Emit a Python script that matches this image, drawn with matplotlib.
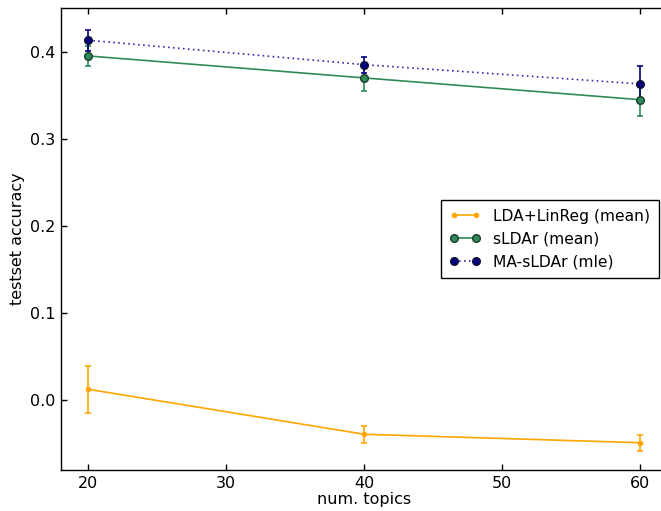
import matplotlib
matplotlib.use("Agg")
import matplotlib.pyplot as plt

topics = [20, 40, 60]

lda_mean = [0.0126, -0.0390, -0.0487]
lda_err = [0.027, 0.010, 0.009]

slda_mean = [0.395, 0.3698, 0.3448]
slda_err = [0.011, 0.015, 0.019]

ma_mle = [0.413, 0.385, 0.3629]
ma_err = [0.012, 0.009, 0.020]

labels = ["LDA+LinReg (mean)", "sLDAr (mean)", "MA-sLDAr (mle)"]
xticks = [20, 30, 40, 50, 60]
yticks = [0.0, 0.1, 0.2, 0.3, 0.4]

plt.rcParams['font.family'] = ['DejaVu Sans']
fig = plt.figure(figsize=(6.61, 5.11), dpi=100)
fig.patch.set_facecolor('white')
ax = fig.add_axes([60.7/661, 1-470/511, 607/661, 462/511])

c1 = ax.errorbar(topics, lda_mean, yerr=lda_err, color='orange', marker='o', markersize=3,
                 markeredgecolor='orange', lw=1.2, capsize=2.5, capthick=1.2, elinewidth=1.2)
c2 = ax.errorbar(topics, slda_mean, yerr=slda_err, color='seagreen', marker='o', markersize=5.5,
                 markerfacecolor='seagreen', markeredgecolor='#1a3a2a', lw=1.2, capsize=2.5,
                 capthick=1.2, elinewidth=1.2)
c3 = ax.errorbar(topics, ma_mle, yerr=ma_err, color='navy', marker='o', markersize=5.5,
                 markerfacecolor='navy', markeredgecolor='#101030', lw=1.2, capsize=2.5,
                 capthick=1.2, elinewidth=1.2)
c3[0].set_linestyle((0, (1, 2)))
c3[0].set_color('#3030a8')
c3[0].set_markerfacecolor('navy')
c3[0].set_markeredgecolor('#101030')

ax.set_xlim(18, 62)
ax.set_ylim(-0.08, 0.45)
ax.set_xticks(xticks)
ax.set_yticks(yticks)
ax.set_xticklabels([str(t) for t in xticks])
ax.set_yticklabels([f"{t:.1f}" for t in yticks])
ax.tick_params(direction='in', top=True, right=True, length=4, width=1, labelsize=11.5, pad=4)
for s in ax.spines.values():
    s.set_linewidth(1)
    s.set_color('black')
ax.set_xlabel("num. topics", fontsize=11.5, labelpad=1)
ax.set_ylabel("testset accuracy", fontsize=11.5, labelpad=3)

leg = ax.legend([c1[0], c2[0], c3[0]], labels, loc='center left',
                bbox_to_anchor=((441-60.7)/607, 0.5), numpoints=2,
                fontsize=11.2, frameon=True, fancybox=False, borderpad=0.55,
                handlelength=2.0, handletextpad=0.8, labelspacing=0.5, borderaxespad=0)
leg.get_frame().set_edgecolor('black')
leg.get_frame().set_linewidth(1)
leg.get_frame().set_alpha(1)

fig.savefig("out.png", dpi=100, facecolor='white')
